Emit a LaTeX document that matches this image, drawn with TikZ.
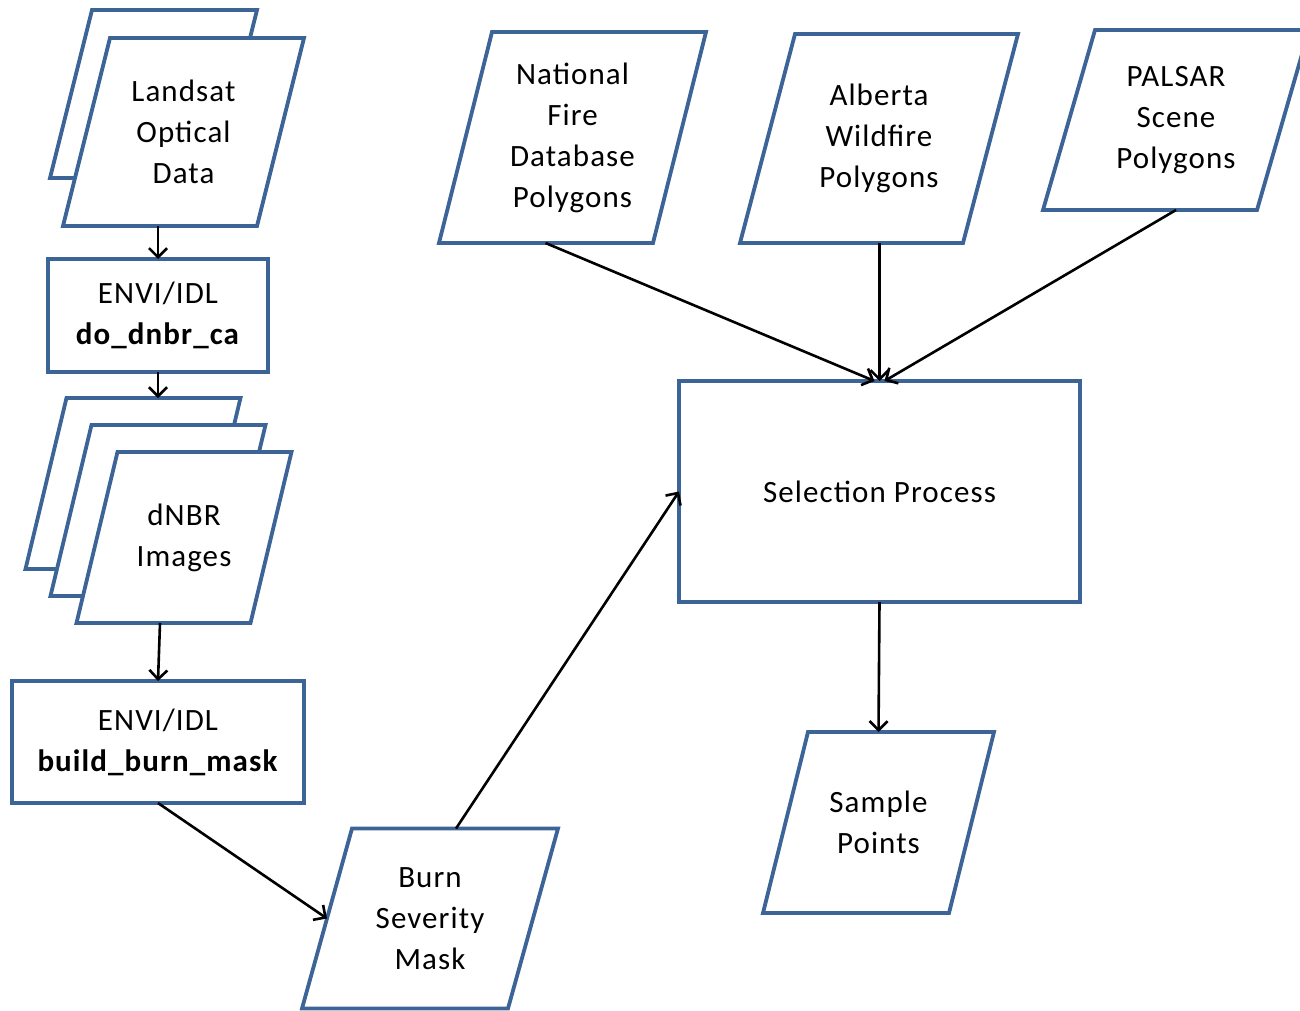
\documentclass[tikz,border=0pt]{standalone}
\usepackage{fontspec}
\setmainfont{Carlito}[LetterSpace=3.5]
\usetikzlibrary{arrows.meta}
\definecolor{frameblue}{RGB}{60,100,150}
\newcommand\flowfont{\fontsize{31}{41}\selectfont}
\tikzset{
  frame/.style={draw=frameblue, line width=3.8pt, fill=white, line join=miter},
  procbox/.style={frame, rectangle, inner sep=0pt, outer sep=0pt, align=center, font=\flowfont},
  slot/.style={rectangle, inner sep=0pt, outer sep=0pt},
  lbl/.style={align=center, inner sep=0pt, font=\flowfont},
  flow/.style={draw=black, line width=2.6pt,
    -{Straight Barb[length=9pt,width=18pt,line width=2.6pt]}},
}
% A data item: a slanted frame around an invisible slot node, with its label on top.
% #1 name, #2 x, #3 y, #4 width, #5 height, #6 slant, #7 text
\newcommand\dataitem[7]{%
  \node[slot, minimum width=#4pt, minimum height=#5pt] (#1) at (#2,#3) {};
  \draw[frame] ([xshift=#6/2]#1.north west) -- ([xshift=#6/2]#1.north east)
    -- ([xshift=-#6/2]#1.south east) -- ([xshift=-#6/2]#1.south west) -- cycle;
  \node[lbl] (#1-text) at (#1.center) {#7};
}
\begin{document}
\begin{tikzpicture}[x=1pt, y=-1pt]
  \clip (0,0) rectangle (1300,1011);

  % left column: Landsat stack
  \dataitem{landsatB}{153.5}{94}{165}{168}{42}{}
  \dataitem{landsat}{183.5}{132}{194}{188}{47}{Landsat\\Optical\\Data}

  \node[procbox, minimum width=220pt, minimum height=113pt] (dnbrtool) at (158,315.5)
    {ENVI/IDL\\\textbf{do\_dnbr\_ca}};

  % dNBR image stack
  \dataitem{dnbrA}{133}{483.5}{174}{171}{41}{}
  \dataitem{dnbrB}{158}{510.5}{174}{171}{41}{}
  \dataitem{dnbr}{184}{537.5}{174}{171}{41}{dNBR\\Images}

  \node[procbox, minimum width=292pt, minimum height=122pt] (masktool) at (158,742)
    {ENVI/IDL\\\textbf{build\_burn\_mask}};

  \dataitem{burn}{430}{918.5}{206}{180}{50}{Burn\\Severity\\Mask}

  % top row of polygon sources
  \dataitem{nfdb}{572.5}{137.5}{214}{211}{53}{National\\Fire\\Database\\Polygons}
  \dataitem{alberta}{879}{138.5}{223}{209}{55}{Alberta\\Wildfire\\Polygons}
  \dataitem{palsar}{1176}{120}{214}{180}{52}{PALSAR\\Scene\\Polygons}

  \node[procbox, minimum width=401pt, minimum height=221pt] (sel) at (879.5,491.5)
    {Selection Process};

  \dataitem{sample}{878.5}{822.5}{186}{181}{45}{Sample\\Points}

  % connectors
  \draw[flow] (landsat.south -| dnbrtool.north) -- (dnbrtool.north);
  \draw[flow] (dnbrtool.south) -- (dnbrtool.south |- dnbrA.north);
  \draw[flow] ([xshift=-24pt]dnbr.south) -- (masktool.north);
  \draw[flow] (masktool.south) -- (burn.west);
  \draw[flow] ([xshift=26pt]burn.north) -- (sel.west);
  \draw[flow] ([xshift=-27pt]nfdb.south) -- ([xshift=-5pt]sel.north);
  \draw[flow] (sel.north |- alberta.south) -- (sel.north);
  \draw[flow] (palsar.center |- palsar.south) -- ([xshift=5pt]sel.north);
  \draw[flow] (sel.south) -- (sample.north);
\end{tikzpicture}
\end{document}
